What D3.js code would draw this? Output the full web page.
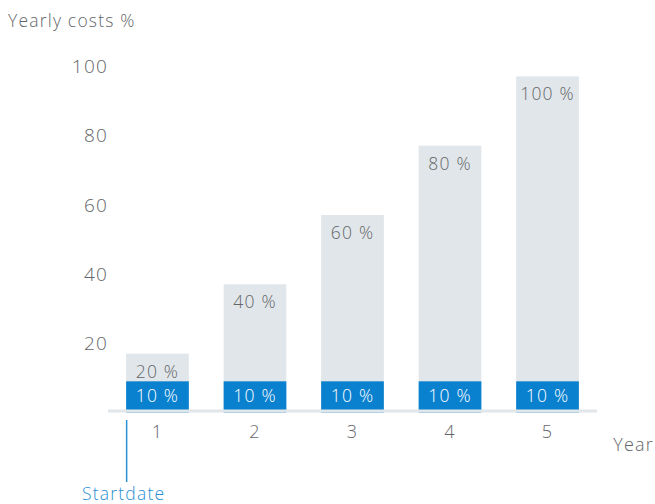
<!DOCTYPE html>
<html>
<head>
<meta charset="utf-8">
<script src="https://cdn.jsdelivr.net/npm/d3@7"></script>
<style>
  html, body { margin: 0; padding: 0; background: #fff; }
  svg { display: block; font-family: "Open Sans", Lato, sans-serif; font-weight: 300; letter-spacing: 1.2px; }
</style>
</head>
<body>
<svg id="chart" width="655" height="504"></svg>
<script>
// Data
const years = ["1", "2", "3", "4", "5"];
const totalValues = [17, 37, 57, 77, 97];      // grey bar tops read against the y axis
const baseValues = [9, 9, 9, 9, 9];            // blue bar tops read against the y axis
const totalLabels = ["20 %", "40 %", "60 %", "80 %", "100 %"];
const baseLabels = ["10 %", "10 %", "10 %", "10 %", "10 %"];
const yTicks = [20, 40, 60, 80, 100];
const yTitle = "Yearly costs %";
const xTitle = "Year";
const startLabel = "Startdate";

const svg = d3.select("#chart");
const grey = "#e1e6ea", blue = "#0a81cf", textGrey = "#636669", startBlue = "#2a8fd4";

const x = d3.scaleBand().domain(years).range([108, 597]).paddingInner(0.357).paddingOuter(0.186);
const y = d3.scaleLinear().domain([0, 100]).range([412.5, 66]);

// grey bars
svg.append("g").selectAll("rect").data(years).join("rect")
  .attr("x", d => x(d)).attr("width", x.bandwidth())
  .attr("y", (d, i) => y(totalValues[i])).attr("height", (d, i) => y(0) - y(totalValues[i]))
  .attr("fill", grey);
// blue bars
svg.append("g").selectAll("rect").data(years).join("rect")
  .attr("x", d => x(d)).attr("width", x.bandwidth())
  .attr("y", (d, i) => y(baseValues[i])).attr("height", (d, i) => y(0) - y(baseValues[i]))
  .attr("fill", blue);

// baseline
svg.append("line").attr("x1", x.range()[0]).attr("x2", x.range()[1])
  .attr("y1", y(0) - 1.5).attr("y2", y(0) - 1.5)
  .attr("stroke", grey).attr("stroke-width", 3);

// grey labels
svg.append("g").selectAll("text").data(years).join("text")
  .attr("x", d => x(d) + x.bandwidth() / 2)
  .attr("y", (d, i) => y(totalValues[i]) + 17)
  .attr("text-anchor", "middle").attr("dominant-baseline", "central")
  .attr("font-size", 17.5).attr("fill", textGrey)
  .text((d, i) => totalLabels[i]);
// blue labels
svg.append("g").selectAll("text").data(years).join("text")
  .attr("x", d => x(d) + x.bandwidth() / 2)
  .attr("y", (d, i) => (y(baseValues[i]) + y(0) - 3) / 2)
  .attr("text-anchor", "middle").attr("dominant-baseline", "central")
  .attr("font-size", 17.5).attr("fill", "#fff")
  .text((d, i) => baseLabels[i]);

// y axis tick labels
svg.append("g").selectAll("text").data(yTicks).join("text")
  .attr("x", 108).attr("y", d => y(d))
  .attr("text-anchor", "end").attr("dominant-baseline", "central")
  .attr("font-size", 19).attr("fill", textGrey)
  .text(d => d);

// x axis tick labels
svg.append("g").selectAll("text").data(years).join("text")
  .attr("x", d => x(d) + x.bandwidth() / 2).attr("y", 431)
  .attr("text-anchor", "middle").attr("dominant-baseline", "central")
  .attr("font-size", 18).attr("fill", textGrey)
  .text(d => d);

// titles
svg.append("text").attr("x", 8).attr("y", 20).attr("dominant-baseline", "central")
  .attr("font-size", 17.5).attr("fill", textGrey).text(yTitle);
svg.append("text").attr("x", 654).attr("y", 444).attr("text-anchor", "end")
  .attr("dominant-baseline", "central")
  .attr("font-size", 18).attr("fill", textGrey).text(xTitle);

// startdate marker
const sx = x(years[0]) + 0.5;
svg.append("line").attr("x1", sx).attr("x2", sx).attr("y1", 420).attr("y2", 482)
  .attr("stroke", startBlue).attr("stroke-width", 1.5);
svg.append("text").attr("x", 82).attr("y", 493).attr("dominant-baseline", "central")
  .attr("font-size", 17.5).attr("fill", startBlue).text(startLabel);
</script>
</body>
</html>
